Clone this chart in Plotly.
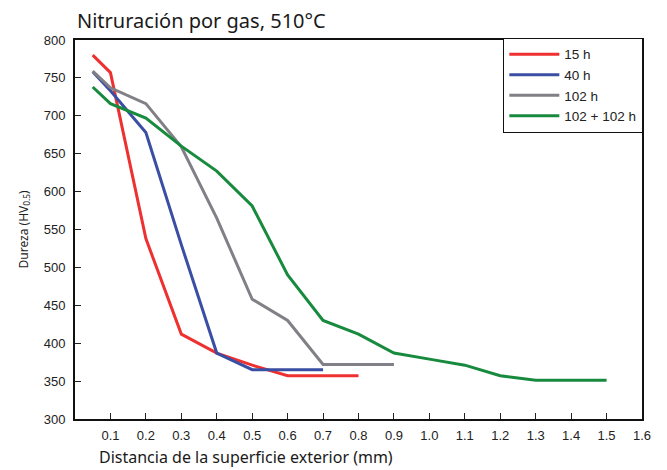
import plotly.graph_objects as go

# ---- data ----
x_15 = [0.05, 0.1, 0.2, 0.3, 0.4, 0.5, 0.6, 0.8]
y_15 = [780, 757, 538, 412, 387, 371, 357, 357]

x_40 = [0.05, 0.1, 0.2, 0.3, 0.4, 0.5, 0.7]
y_40 = [758, 733, 678, 530, 387, 365, 365]

x_102 = [0.05, 0.1, 0.2, 0.3, 0.4, 0.5, 0.6, 0.7, 0.9]
y_102 = [759, 737, 716, 659, 565, 458, 430, 372, 372]

x_204 = [0.05, 0.1, 0.2, 0.3, 0.4, 0.5, 0.6, 0.7, 0.8, 0.9, 1.0, 1.1, 1.2, 1.3, 1.5]
y_204 = [738, 716, 697, 660, 627, 581, 490, 430, 412, 387, 379, 371, 357, 351, 351]

series_names = ["15 h", "40 h", "102 h", "102 + 102 h"]
series_colors = ["#EE3030", "#3A4FA3", "#808086", "#178A3E"]

x_ticks = [0.1, 0.2, 0.3, 0.4, 0.5, 0.6, 0.7, 0.8, 0.9, 1.0, 1.1, 1.2, 1.3, 1.4, 1.5, 1.6]
x_tick_labels = ["0.1", "0.2", "0.3", "0.4", "0.5", "0.6", "0.7", "0.8", "0.9",
                 "1.0", "1.1", "1.2", "1.3", "1.4", "1.5", "1.6"]
y_ticks = [300, 350, 400, 450, 500, 550, 600, 650, 700, 750, 800]

title_text = "Nitruración por gas, 510°C"
x_title = "Distancia de la superficie exterior (mm)"
y_title = "Dureza (HV<sub>0.5</sub>)"

fig = go.Figure()
for xs, ys, name, color in zip([x_15, x_40, x_102, x_204],
                               [y_15, y_40, y_102, y_204],
                               series_names, series_colors):
    fig.add_trace(go.Scatter(x=xs, y=ys, mode="lines", name=name,
                             line=dict(color=color, width=3)))

# the page body adds an 8px offset; compensate in the figure size
OFF = 8
W, H = 667 - OFF, 470 - OFF
L, R, T, B = 75 - OFF, 25, 40 - OFF, 51
PW, PH = W - L - R, H - T - B

fig.update_layout(
    width=W, height=H,
    margin=dict(l=L, r=R, t=T, b=B),
    paper_bgcolor="white", plot_bgcolor="white",
    font=dict(family="Liberation Sans, Arial, sans-serif", size=13, color="#222"),
    title=dict(text=title_text, x=(77 - OFF) / W, xanchor="left",
               y=1 - (21 - OFF) / H, yanchor="middle",
               font=dict(family="Noto Sans", size=20, color="#1a1a1a")),
    showlegend=True,
    legend=dict(x=1.002, xanchor="right", y=1.006, yanchor="top",
                bgcolor="white", bordercolor="#111", borderwidth=1.2,
                font=dict(size=13.5, color="#222"), itemwidth=50,
                tracegroupgap=0),
    xaxis=dict(range=[0, 1.6], tickvals=x_ticks, ticktext=x_tick_labels,
               ticks="inside", ticklen=6, tickcolor="#222", tickwidth=1,
               showline=True, linecolor="#111", linewidth=1.8, mirror=True,
               showgrid=False, zeroline=False, ticklabelstandoff=3),
    yaxis=dict(range=[300, 800], tickvals=y_ticks,
               ticks="inside", ticklen=6, tickcolor="#222", tickwidth=1,
               showline=True, linecolor="#111", linewidth=1.8, mirror=True,
               showgrid=False, zeroline=False, ticklabelstandoff=5),
    annotations=[
        dict(text=x_title, xref="paper", yref="paper",
             x=(97 - 75) / PW, xanchor="left",
             y=-(457 - 419) / PH, yanchor="middle",
             showarrow=False,
             font=dict(family="Noto Sans", size=16, color="#1a1a1a")),
        dict(text=y_title, xref="paper", yref="paper",
             x=-(75 - 23) / PW, xanchor="center",
             y=0.5, yanchor="middle", textangle=-90, showarrow=False,
             font=dict(family="Noto Sans", size=12, color="#222")),
    ],
)

fig.write_html("out.html")
